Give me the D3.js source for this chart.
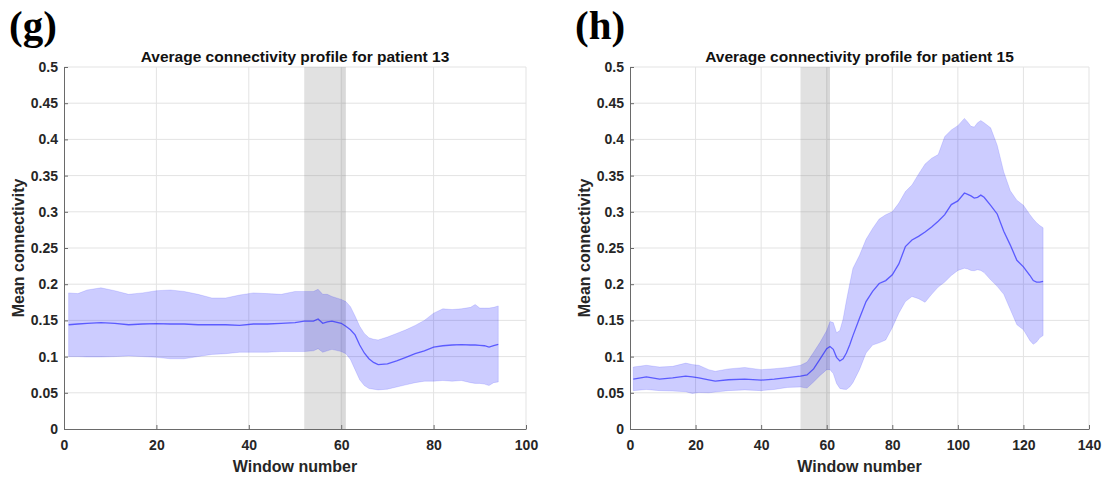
<!DOCTYPE html>
<html lang="en">
	<head>
		<meta charset="utf-8">
		<title>Average connectivity profiles</title>
		<script type="text/javascript" src="https://cdn.jsdelivr.net/npm/d3@7"></script>
		<style>
			body { margin: 0; background: white; }
		</style>
	</head>
	<body>
		<script type="text/javascript">
			// Patient 13 (panel g)
			var win13 = [1, 3, 5, 8, 11, 14, 17, 20, 23, 26, 29, 32, 35, 38, 41, 44, 47, 50, 52, 54, 55, 56, 57, 58, 60, 61, 62, 63, 64, 65, 66, 67, 68, 70, 72, 74, 76, 78, 80, 82, 84, 86, 88, 89, 90, 91, 92, 93, 94];
			var mean13 = [0.144, 0.145, 0.146, 0.147, 0.146, 0.144, 0.145, 0.1455, 0.145, 0.145, 0.144, 0.144, 0.144, 0.143, 0.145, 0.145, 0.146, 0.147, 0.149, 0.149, 0.152, 0.146, 0.148, 0.149, 0.146, 0.142, 0.137, 0.130, 0.116, 0.105, 0.097, 0.092, 0.089, 0.090, 0.094, 0.099, 0.104, 0.108, 0.113, 0.115, 0.116, 0.1165, 0.116, 0.116, 0.1155, 0.115, 0.113, 0.115, 0.117];
			var upper13 = [0.188, 0.187, 0.192, 0.195, 0.191, 0.186, 0.188, 0.191, 0.192, 0.190, 0.186, 0.181, 0.181, 0.185, 0.188, 0.187, 0.186, 0.190, 0.190, 0.190, 0.193, 0.186, 0.186, 0.183, 0.179, 0.176, 0.169, 0.156, 0.142, 0.132, 0.126, 0.124, 0.123, 0.127, 0.132, 0.137, 0.143, 0.150, 0.160, 0.166, 0.165, 0.166, 0.168, 0.172, 0.167, 0.167, 0.167, 0.168, 0.170];
			var lower13 = [0.100, 0.100, 0.0995, 0.0995, 0.100, 0.101, 0.100, 0.099, 0.097, 0.097, 0.100, 0.103, 0.104, 0.106, 0.106, 0.106, 0.107, 0.107, 0.107, 0.108, 0.111, 0.106, 0.108, 0.110, 0.107, 0.104, 0.096, 0.082, 0.068, 0.060, 0.056, 0.055, 0.054, 0.055, 0.058, 0.061, 0.064, 0.066, 0.066, 0.067, 0.066, 0.067, 0.064, 0.063, 0.063, 0.062, 0.060, 0.064, 0.065];

			// Patient 15 (panel h)
			var win15 = [1, 5, 9, 13, 17, 19, 21, 24, 26, 30, 35, 40, 44, 48, 52, 54, 56, 58, 60, 61, 62, 63, 64, 65, 66, 67, 68, 70, 72, 74, 76, 78, 80, 82, 84, 86, 88, 90, 92, 94, 96, 98, 100, 102, 103, 104, 105, 106, 107, 108, 110, 112, 114, 116, 118, 120, 122, 123, 124, 125, 126];
			var mean15 = [0.069, 0.072, 0.069, 0.0705, 0.073, 0.072, 0.0705, 0.068, 0.066, 0.068, 0.069, 0.0675, 0.069, 0.071, 0.073, 0.0747, 0.083, 0.097, 0.111, 0.114, 0.110, 0.099, 0.094, 0.097, 0.105, 0.116, 0.129, 0.153, 0.176, 0.190, 0.201, 0.205, 0.213, 0.228, 0.252, 0.261, 0.266, 0.272, 0.279, 0.287, 0.296, 0.310, 0.315, 0.326, 0.324, 0.322, 0.319, 0.320, 0.323, 0.320, 0.309, 0.297, 0.273, 0.254, 0.233, 0.224, 0.212, 0.205, 0.203, 0.203, 0.204];
			var upper15 = [0.0856, 0.088, 0.0856, 0.0865, 0.091, 0.089, 0.088, 0.082, 0.0797, 0.083, 0.085, 0.082, 0.0833, 0.085, 0.088, 0.0924, 0.106, 0.120, 0.136, 0.1485, 0.147, 0.133, 0.136, 0.152, 0.177, 0.200, 0.222, 0.240, 0.262, 0.277, 0.290, 0.296, 0.300, 0.312, 0.328, 0.337, 0.352, 0.366, 0.374, 0.379, 0.404, 0.413, 0.419, 0.429, 0.424, 0.418, 0.417, 0.423, 0.426, 0.423, 0.416, 0.392, 0.355, 0.329, 0.316, 0.309, 0.296, 0.290, 0.285, 0.281, 0.278];
			var lower15 = [0.053, 0.0546, 0.053, 0.0524, 0.0515, 0.049, 0.0505, 0.050, 0.051, 0.053, 0.054, 0.053, 0.0546, 0.0574, 0.058, 0.0565, 0.065, 0.074, 0.082, 0.082, 0.0765, 0.063, 0.056, 0.055, 0.0546, 0.058, 0.064, 0.082, 0.105, 0.116, 0.119, 0.123, 0.140, 0.160, 0.176, 0.183, 0.180, 0.175, 0.186, 0.196, 0.203, 0.212, 0.219, 0.222, 0.221, 0.219, 0.2186, 0.220, 0.219, 0.216, 0.206, 0.197, 0.186, 0.165, 0.144, 0.137, 0.122, 0.117, 0.120, 0.126, 0.129];

			// Seizure window (shaded) and axis ticks
			var shadeWin = [52, 61];
			var yTicks = [0, 0.05, 0.1, 0.15, 0.2, 0.25, 0.3, 0.35, 0.4, 0.45, 0.5];
			var xTicks13 = [0, 20, 40, 60, 80, 100];
			var xTicks15 = [0, 20, 40, 60, 80, 100, 120, 140];

			var panels = [
				{ label: "(g)", title: "Average connectivity profile for patient 13", win: win13, mean: mean13, upper: upper13, lower: lower13, xTicks: xTicks13, left: 64, right: 526, labelX: 9 },
				{ label: "(h)", title: "Average connectivity profile for patient 15", win: win15, mean: mean15, upper: upper15, lower: lower15, xTicks: xTicks15, left: 630, right: 1089, labelX: 575 }
			];

			var width = 1107, height = 477;
			var plotTop = 67, plotBottom = 429;
			var sans = "'Liberation Sans', Arial, sans-serif";

			var svg = d3.select("body")
						.append("svg")
						.attr("width", width)
						.attr("height", height);

			svg.append("rect")
				.attr("width", width)
				.attr("height", height)
				.attr("fill", "white");

			var y = d3.scaleLinear().domain([0, 0.5]).range([plotBottom, plotTop]);

			panels.forEach(function(p) {
				var xTicks = p.xTicks;
				var x = d3.scaleLinear()
						  .domain([xTicks[0], xTicks[xTicks.length - 1]])
						  .range([p.left, p.right]);
				var g = svg.append("g");

				// grid
				g.selectAll(".hgrid")
				 .data(yTicks.slice(1))
				 .enter()
				 .append("line")
				 .attr("x1", p.left).attr("x2", p.right)
				 .attr("y1", function(d) { return y(d); })
				 .attr("y2", function(d) { return y(d); })
				 .attr("stroke", "#e3e3e3")
				 .attr("stroke-width", 1);
				g.selectAll(".vgrid")
				 .data(xTicks.slice(1))
				 .enter()
				 .append("line")
				 .attr("x1", function(d) { return x(d); })
				 .attr("x2", function(d) { return x(d); })
				 .attr("y1", plotTop).attr("y2", plotBottom)
				 .attr("stroke", "#e3e3e3")
				 .attr("stroke-width", 1);

				// shaded window
				g.append("rect")
				 .attr("x", x(shadeWin[0]))
				 .attr("y", plotTop)
				 .attr("width", x(shadeWin[1]) - x(shadeWin[0]))
				 .attr("height", plotBottom - plotTop)
				 .attr("fill", "rgba(128,128,128,0.24)");
				g.append("rect")
				 .attr("x", x(shadeWin[1] - 1))
				 .attr("y", plotTop)
				 .attr("width", x(shadeWin[1]) - x(shadeWin[1] - 1))
				 .attr("height", plotBottom - plotTop)
				 .attr("fill", "rgba(128,128,128,0.08)");

				var pts = p.win.map(function(w, i) { return { w: w, m: p.mean[i], u: p.upper[i], l: p.lower[i] }; });

				// std band
				var area = d3.area()
							 .x(function(d) { return x(d.w); })
							 .y0(function(d) { return y(d.l); })
							 .y1(function(d) { return y(d.u); });
				g.append("path")
				 .datum(pts)
				 .attr("d", area)
				 .attr("fill", "rgba(0,0,255,0.2)")
				 .attr("stroke", "rgba(0,0,255,0.12)")
				 .attr("stroke-width", 1);

				// mean line
				var line = d3.line()
							 .x(function(d) { return x(d.w); })
							 .y(function(d) { return y(d.m); });
				g.append("path")
				 .datum(pts)
				 .attr("d", line)
				 .attr("fill", "none")
				 .attr("stroke", "rgba(30,30,255,0.65)")
				 .attr("stroke-width", 1.3);

				// axes (ticks inward, like MATLAB)
				var xAxis = g.append("g")
							 .attr("transform", "translate(0," + plotBottom + ")")
							 .call(d3.axisBottom(x).tickValues(xTicks).tickSizeInner(-4).tickSizeOuter(0).tickPadding(11));
				var yAxis = g.append("g")
							 .attr("transform", "translate(" + p.left + ",0)")
							 .call(d3.axisLeft(y).tickValues(yTicks).tickFormat(d3.format("")).tickSizeInner(-4).tickSizeOuter(0).tickPadding(6));
				[xAxis, yAxis].forEach(function(a) {
					a.select(".domain").attr("stroke", "#6a6a6a");
					a.selectAll(".tick line").attr("stroke", "#6a6a6a");
					a.selectAll(".tick text")
					 .attr("fill", "#262626")
					 .attr("font-size", 14)
					 .attr("font-weight", "bold")
					 .attr("font-family", sans);
				});

				// titles and labels
				g.append("text")
				 .attr("x", (p.left + p.right) / 2)
				 .attr("y", 62)
				 .attr("text-anchor", "middle")
				 .attr("font-family", sans)
				 .attr("font-size", 15.5)
				 .attr("font-weight", "bold")
				 .attr("fill", "#111")
				 .text(p.title);
				g.append("text")
				 .attr("x", (p.left + p.right) / 2)
				 .attr("y", 472)
				 .attr("text-anchor", "middle")
				 .attr("font-family", sans)
				 .attr("font-size", 16)
				 .attr("font-weight", "bold")
				 .attr("fill", "#262626")
				 .text("Window number");
				g.append("text")
				 .attr("transform", "translate(" + (p.left - 40) + "," + ((plotTop + plotBottom) / 2) + ") rotate(-90)")
				 .attr("text-anchor", "middle")
				 .attr("font-family", sans)
				 .attr("font-size", 16)
				 .attr("font-weight", "bold")
				 .attr("fill", "#262626")
				 .text("Mean connectivity");
				g.append("text")
				 .attr("x", p.labelX)
				 .attr("y", 39)
				 .attr("font-family", "'Liberation Serif', 'Times New Roman', serif")
				 .attr("font-size", 41)
				 .attr("font-weight", "bold")
				 .attr("fill", "black")
				 .text(p.label);
			});
		</script>
	</body>
</html>
